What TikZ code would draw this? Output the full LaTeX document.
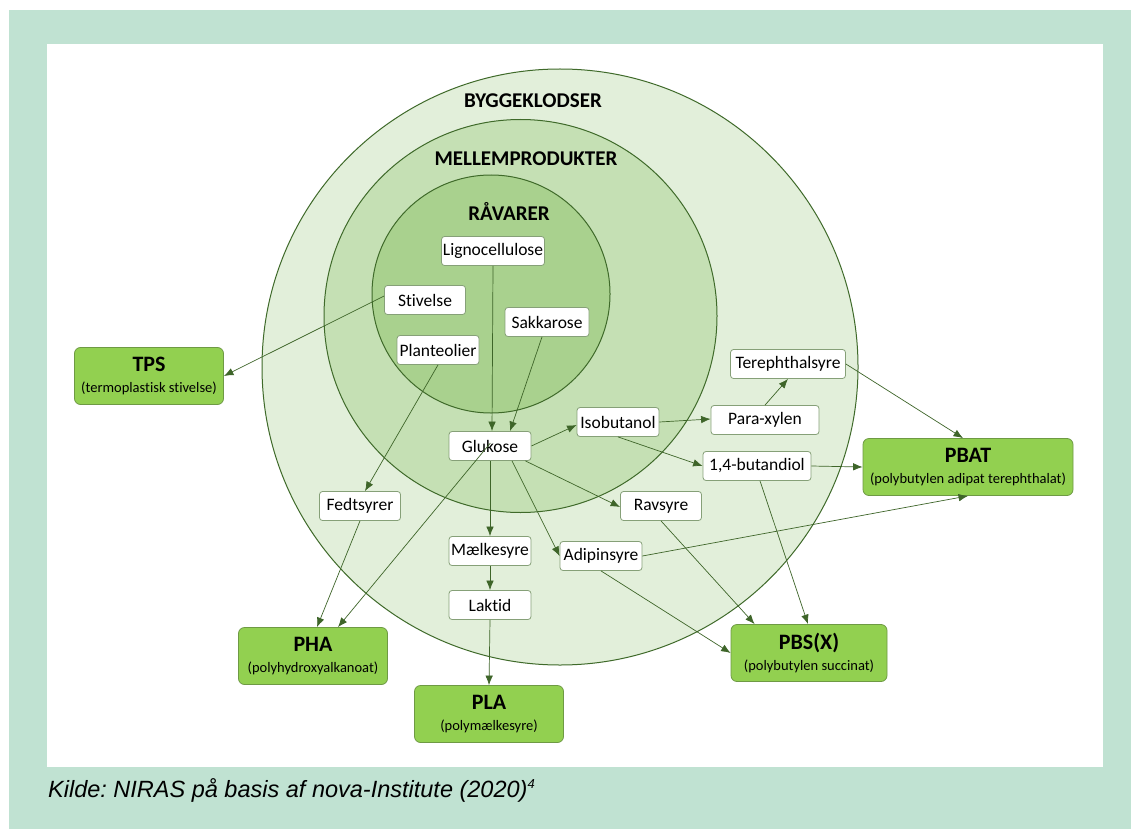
\documentclass[tikz,border=0pt]{standalone}
\usepackage{fontspec}
\setmainfont{Carlito}[Ligatures=NoCommon]
\newfontfamily\captionfont{Liberation Sans}
\usetikzlibrary{arrows.meta}

\definecolor{frame}{HTML}{C0E2D2}
\definecolor{ringA}{HTML}{E2EFDA}
\definecolor{ringB}{HTML}{C5E0B4}
\definecolor{ringC}{HTML}{A9D18E}
\definecolor{ringline}{HTML}{3F6A2A}
\definecolor{boxline}{HTML}{86A078}
\definecolor{prodfill}{HTML}{92D050}
\definecolor{prodline}{HTML}{6E9A44}
\definecolor{arrowc}{HTML}{3E6529}

\tikzset{
  ring/.style={draw=ringline, line width=1pt},
  stage/.style={font=\fontsize{21}{23}\selectfont\bfseries, inner sep=0pt},
  chem/.style={draw=boxline, fill=white, rounded corners=3pt, line width=0.8pt,
    font=\fontsize{17.5}{19}\selectfont, inner sep=0pt, minimum height=29pt},
  product/.style={draw=prodline, fill=prodfill, rounded corners=6pt, line width=0.8pt,
    inner sep=0pt, minimum height=57pt, align=center, font=\fontsize{14.5}{21}\selectfont},
  flow/.style={draw=arrowc, line width=0.7pt, -{Latex[length=9.5pt,width=7.5pt]}},
}

\newcommand{\prodtext}[2]{{\fontsize{22}{22}\selectfont\bfseries #1}\\{#2}}

\begin{document}
\begin{tikzpicture}[x=1pt,y=-1pt]
  \useasboundingbox (0,0) rectangle (1131,829);
  % page frame
  \fill[white] (0,0) rectangle (1131,829);
  \fill[frame] (9,10) rectangle (1131,829);
  \fill[white] (47,44) rectangle (1103,767);

  % nested stages
  \filldraw[ring, fill=ringA] (560,367) circle (298pt);
  \filldraw[ring, fill=ringB] (520.5,316) circle (196.5pt);
  \filldraw[ring, fill=ringC] (491,294) circle (119pt);

  \node[stage] (lblbygge) at (533,101) {BYGGEKLODSER};
  \node[stage] (lblmellem) at (526,159) {MELLEMPRODUKTER};
  \node[stage] (lblraa) at (509,211) {RÅVARER};

  % raw materials and intermediates
  \node[chem, minimum width=103pt] (ligno) at (493,251) {Lignocellulose};
  \node[chem, minimum width=81pt] (stiv) at (425,300) {Stivelse};
  \node[chem, minimum width=84pt] (sakk) at (547,322) {Sakkarose};
  \node[chem, minimum width=82pt] (plante) at (438,350) {Planteolier};
  \node[chem, minimum width=82pt] (gluk) at (490,446) {Glukose};
  \node[chem, minimum width=82pt] (isob) at (618,422) {Isobutanol};
  \node[chem, minimum width=115pt] (tere) at (788,364) {Terephthalsyre};
  \node[chem, minimum width=108pt] (para) at (765,420) {Para-xylen};
  \node[chem, minimum width=108pt] (butan) at (757,466) {1,4-butandiol};
  \node[chem, minimum width=81pt] (fedt) at (360,506) {Fedtsyrer};
  \node[chem, minimum width=81pt] (ravs) at (661,506) {Ravsyre};
  \node[chem, minimum width=82pt] (maelk) at (490,551) {Mælkesyre};
  \node[chem, minimum width=82pt] (adip) at (601,556) {Adipinsyre};
  \node[chem, minimum width=82pt] (laktid) at (490,605) {Laktid};

  % polymers
  \node[product, minimum width=149pt] (tps) at (149,376) {\prodtext{TPS}{(termoplastisk stivelse)}};
  \node[product, minimum width=210pt] (pbat) at (968,467) {\prodtext{PBAT}{(polybutylen adipat terephthalat)}};
  \node[product, minimum width=149pt] (pha) at (313,656) {\prodtext{PHA}{(polyhydroxyalkanoat)}};
  \node[product, minimum width=149pt] (pla) at (489,714) {\prodtext{PLA}{(polymælkesyre)}};
  \node[product, minimum width=156pt] (pbs) at (809,653) {\prodtext{PBS(X)}{(polybutylen succinat)}};

  % conversion routes
  \draw[flow] ([yshift=4pt]stiv.west) -- (tps.east);
  \draw[flow] (ligno.south) -- ([xshift=2pt]gluk.north);
  \draw[flow] ([xshift=-5pt]sakk.south) -- ([xshift=20pt]gluk.north);
  \draw[flow] (plante.south) -- ([xshift=5pt]fedt.north);
  \draw[flow] ([xshift=-41pt,yshift=3pt]gluk.east) -- ([xshift=25pt]pha.north);
  \draw[flow] (fedt.south) -- ([xshift=4pt]pha.north);
  \draw[flow] (gluk.east) -- ([yshift=-3pt]isob.west);
  \draw[flow] (gluk.south) -- (maelk.north);
  \draw[flow] ([xshift=-6pt]gluk.south east) -- ([yshift=-1pt]ravs.west);
  \draw[flow] ([xshift=22pt]gluk.south) -- (adip.west);
  \draw[flow] (maelk.south) -- (laktid.north);
  \draw[flow] (laktid.south) -- (pla.north);
  \draw[flow] (isob.east) -- ([yshift=1pt]para.west);
  \draw[flow] (isob.south) -- (butan.west);
  \draw[flow] (para.north) -- (tere.south);
  \draw[flow] (tere.east) -- ([xshift=-5pt]pbat.north);
  \draw[flow] (butan.east) -- (pbat.west);
  \draw[flow] ([xshift=3pt]butan.south) -- ([xshift=-1pt]pbs.north);
  \draw[flow] (adip.east) -- (pbat.south);
  \draw[flow] (adip.south) -- (pbs.west);
  \draw[flow] (ravs.south) -- ([xshift=24pt]pbs.north west);

  % source line
  \node[anchor=base west, inner sep=0pt, font=\captionfont\itshape\fontsize{23.5}{25}\selectfont] (kilde) at (48,797)
    {\frenchspacing Kilde: NIRAS på basis af nova-Institute (2020)\raisebox{0.38em}{\fontsize{13}{14}\selectfont 4}};
\end{tikzpicture}
\end{document}
